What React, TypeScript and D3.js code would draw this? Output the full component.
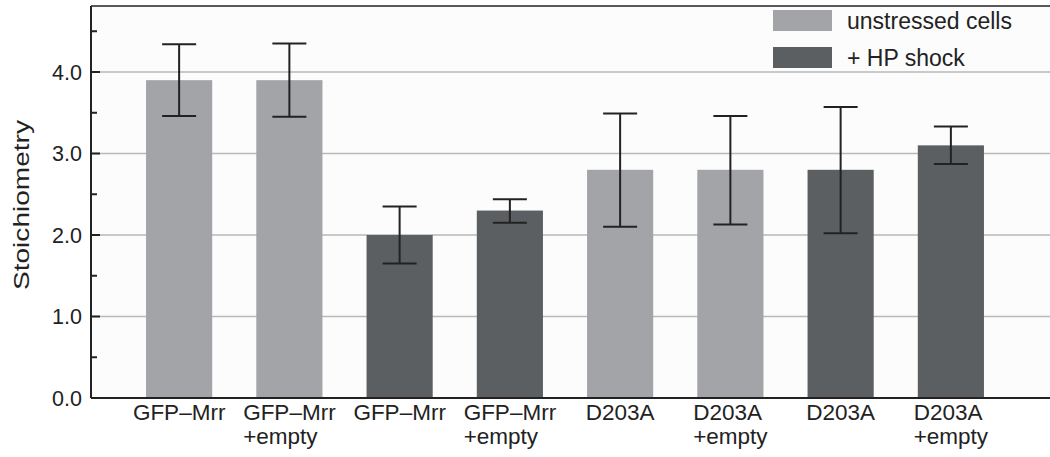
import React, { useEffect, useRef } from "react";
import * as d3 from "d3";

const labelLine1 = ["GFP–Mrr", "GFP–Mrr", "GFP–Mrr", "GFP–Mrr", "D203A", "D203A", "D203A", "D203A"];
const labelLine2 = ["", "+empty", "", "+empty", "", "+empty", "", "+empty"];
const conditions = ["unstressed", "unstressed", "hp", "hp", "unstressed", "unstressed", "hp", "hp"];
const values = [3.9, 3.9, 2.0, 2.3, 2.8, 2.8, 2.8, 3.1];
const errLow = [3.46, 3.45, 1.65, 2.15, 2.1, 2.13, 2.02, 2.87];
const errHigh = [4.34, 4.35, 2.35, 2.44, 3.49, 3.46, 3.57, 3.33];
const majorTicks = [0, 1, 2, 3, 4];
const minorTicks = [0.5, 1.5, 2.5, 3.5, 4.5];
const legendKeys = ["unstressed", "hp"];
const legendLabels = ["unstressed cells", "+ HP shock"];

const W = 1050;
const H = 457;
const FONT = "'Liberation Sans', Arial, Helvetica, sans-serif";

export default function App() {
  const ref = useRef<SVGSVGElement | null>(null);

  useEffect(() => {
    const svg = d3.select(ref.current);
    svg.selectAll("*").remove();

    const left = 91, right = 1050, top = 6, bottom = 398;
    const color = d3.scaleOrdinal<string, string>().domain(legendKeys).range(["#a2a4a7", "#5c5f62"]);

    const x = d3.scaleBand<number>()
      .domain(d3.range(values.length))
      .range([124, 1006])
      .paddingInner(0.4)
      .paddingOuter(0.2);
    const y = d3.scaleLinear().domain([0, (bottom - top) / 81.5]).range([bottom, top]);

    svg.append("rect").attr("x", 0).attr("y", 0).attr("width", W).attr("height", H).attr("fill", "#ffffff");
    svg.append("rect").attr("x", left).attr("y", top).attr("width", right - left).attr("height", bottom - top).attr("fill", "#fcfcfc");

    // gridlines
    svg.append("g").selectAll("line").data(majorTicks.filter((d) => d > 0)).join("line")
      .attr("x1", left).attr("x2", right)
      .attr("y1", (d) => y(d)).attr("y2", (d) => y(d))
      .attr("stroke", "#b9b9b9").attr("stroke-width", 1.5);

    // bars
    svg.append("g").selectAll("rect").data(values).join("rect")
      .attr("x", (_, i) => x(i)!)
      .attr("width", x.bandwidth())
      .attr("y", (d) => y(d))
      .attr("height", (d) => y(0) - y(d))
      .attr("fill", (_, i) => color(conditions[i]));

    // error bars
    const eb = svg.append("g").attr("stroke", "#222").attr("stroke-width", 2);
    values.forEach((_, i) => {
      const cx = x(i)! + x.bandwidth() / 2;
      eb.append("line").attr("x1", cx).attr("x2", cx).attr("y1", y(errLow[i])).attr("y2", y(errHigh[i]));
      eb.append("line").attr("x1", cx - 17).attr("x2", cx + 17).attr("y1", y(errLow[i])).attr("y2", y(errLow[i]));
      eb.append("line").attr("x1", cx - 17).attr("x2", cx + 17).attr("y1", y(errHigh[i])).attr("y2", y(errHigh[i]));
    });

    // frame
    svg.append("line").attr("x1", left).attr("x2", right).attr("y1", top).attr("y2", top).attr("stroke", "#222").attr("stroke-width", 1.5);
    svg.append("line").attr("x1", left).attr("x2", left).attr("y1", top).attr("y2", bottom).attr("stroke", "#222").attr("stroke-width", 2);
    svg.append("line").attr("x1", left).attr("x2", right).attr("y1", bottom).attr("y2", bottom).attr("stroke", "#222").attr("stroke-width", 2);

    // y ticks
    svg.append("g").selectAll("line").data(majorTicks).join("line")
      .attr("x1", left).attr("x2", left + 9).attr("y1", (d) => y(d)).attr("y2", (d) => y(d))
      .attr("stroke", "#222").attr("stroke-width", 2);
    svg.append("g").selectAll("line").data(minorTicks).join("line")
      .attr("x1", left).attr("x2", left + 6).attr("y1", (d) => y(d)).attr("y2", (d) => y(d))
      .attr("stroke", "#222").attr("stroke-width", 2);
    svg.append("g").selectAll("text").data(majorTicks).join("text")
      .attr("x", 82).attr("y", (d) => y(d)).attr("dy", "0.36em")
      .attr("text-anchor", "end")
      .attr("font-family", FONT).attr("font-size", 21.5).attr("fill", "#222")
      .text((d) => d3.format(".1f")(d));

    // y title
    svg.append("text")
      .attr("transform", `translate(29,${(top + bottom) / 2 + 3}) rotate(-90)`)
      .attr("text-anchor", "middle")
      .attr("font-family", FONT).attr("font-size", 22).attr("fill", "#222")
      .attr("textLength", 170).attr("lengthAdjust", "spacingAndGlyphs")
      .text("Stoichiometry");

    // x labels
    const xl = svg.append("g").attr("font-family", FONT).attr("font-size", 22.5).attr("fill", "#222");
    values.forEach((_, i) => {
      const cx = x(i)! + x.bandwidth() / 2;
      const t = xl.append("text").attr("y", 420);
      const t1 = t.append("tspan").text(labelLine1[i]);
      const t2 = labelLine2[i] ? t.append("tspan").text(labelLine2[i]) : null;
      const w1 = (t1.node() as SVGTSpanElement).getComputedTextLength();
      const w2 = t2 ? (t2.node() as SVGTSpanElement).getComputedTextLength() : 0;
      const wMax = Math.max(w1, w2);
      const sx = cx - wMax / 2;
      t1.attr("x", sx);
      if (t2) t2.attr("x", sx).attr("y", 444);
    });

    // legend
    const lg = svg.append("g");
    legendKeys.forEach((k, i) => {
      const yy = 10 + i * 37;
      lg.append("rect").attr("x", 773).attr("y", yy).attr("width", 59).attr("height", 21).attr("fill", color(k));
      lg.append("text").attr("x", 847).attr("y", yy + 10.5).attr("dy", "0.36em")
        .attr("font-family", FONT).attr("font-size", 23).attr("fill", "#222")
        .text(legendLabels[i]);
    });
  }, []);

  return (
    <svg ref={ref} width={W} height={H} style={{ position: "absolute", left: 0, top: 0, display: "block" }} />
  );
}
